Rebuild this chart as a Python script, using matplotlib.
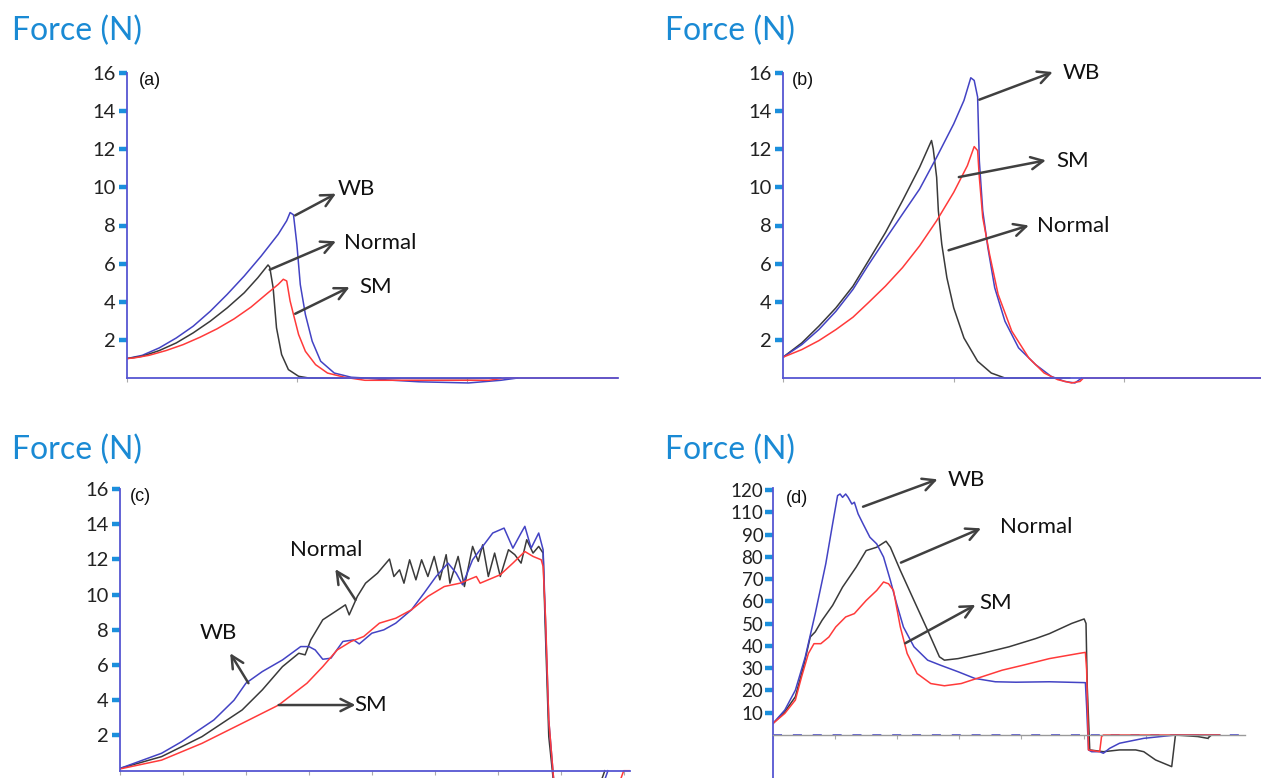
import matplotlib
matplotlib.use("Agg")
import matplotlib.pyplot as plt

W, H = 1261, 778
fig = plt.figure(figsize=(W / 100, H / 100), dpi=100)

BLUE = "#4343c4"
BLACK = "#3a3a3a"
RED = "#ff3a3a"
SPINE = "#5656d2"
TICKC = "#1b8fdc"
TITLEC = "#1a8ad4"
ARROWC = "#404040"
FONT = "Lato"

# ---------------- data (x in x-tick units, y in axis units) ----------------
# Panel (a)
a_wb_x = [0, 0.09, 0.19, 0.29, 0.39, 0.49, 0.59, 0.69, 0.79, 0.89, 0.94, 0.96, 0.98, 1.0, 1.02, 1.05, 1.09,
          1.14, 1.22, 1.32, 1.4, 1.53, 1.72, 2.01, 2.2, 2.3]
a_wb_y = [1.02, 1.19, 1.58, 2.1, 2.72, 3.5, 4.39, 5.35, 6.4, 7.54, 8.25, 8.68, 8.56, 7.0, 4.9, 3.33, 1.93,
          0.88, 0.26, 0.04, 0, -0.1, -0.2, -0.26, -0.12, 0]
a_nm_x = [0, 0.09, 0.19, 0.29, 0.39, 0.49, 0.59, 0.69, 0.77, 0.83, 0.84, 0.86, 0.88, 0.91, 0.95, 1.01, 1.07,
          2.01, 2.2]
a_nm_y = [1.02, 1.14, 1.44, 1.84, 2.37, 2.98, 3.68, 4.47, 5.26, 5.93, 5.82, 4.74, 2.63, 1.23, 0.44, 0.09, 0,
          -0.03, 0]
a_sm_x = [0, 0.04, 0.13, 0.23, 0.33, 0.43, 0.53, 0.63, 0.73, 0.83, 0.89, 0.92, 0.94, 0.96, 0.98, 1.01, 1.05,
          1.11, 1.18, 1.28, 1.4, 2.13, 2.23, 2.89]
a_sm_y = [1.02, 1.05, 1.19, 1.44, 1.75, 2.14, 2.58, 3.1, 3.72, 4.47, 4.91, 5.18, 5.09, 4.04, 3.33, 2.28, 1.4,
          0.7, 0.26, 0.04, -0.12, -0.12, 0, 0]

# Panel (b)
b_wb_x = [0, 0.11, 0.21, 0.31, 0.41, 0.5, 0.6, 0.7, 0.8, 0.9, 1.0, 1.06, 1.1, 1.12, 1.14, 1.15, 1.17, 1.2,
          1.24, 1.3, 1.38, 1.48, 1.57, 1.65, 1.71, 1.75]
b_wb_y = [1.09, 1.75, 2.54, 3.5, 4.65, 5.93, 7.28, 8.6, 9.91, 11.58, 13.33, 14.56, 15.75, 15.61, 14.74, 11.4,
          8.77, 6.84, 4.74, 2.98, 1.58, 0.7, 0.09, -0.18, -0.26, 0]
b_nm_x = [0, 0.11, 0.21, 0.31, 0.41, 0.5, 0.6, 0.7, 0.8, 0.87, 0.88, 0.9, 0.91, 0.93, 0.96, 1.0, 1.06, 1.14,
          1.22, 1.3, 1.68]
b_nm_y = [1.09, 1.84, 2.72, 3.68, 4.82, 6.14, 7.63, 9.3, 11.05, 12.46, 12.02, 10.53, 8.77, 7.02, 5.26, 3.68,
          2.1, 0.88, 0.26, 0, 0]
b_sm_x = [0, 0.11, 0.21, 0.31, 0.41, 0.5, 0.6, 0.7, 0.8, 0.9, 1.0, 1.08, 1.12, 1.14, 1.15, 1.17, 1.21, 1.26,
          1.34, 1.44, 1.53, 1.61, 1.69, 1.74, 1.76, 2.8]
b_sm_y = [1.09, 1.49, 1.96, 2.54, 3.19, 3.95, 4.82, 5.79, 6.93, 8.25, 9.74, 11.14, 12.14, 11.93, 10.53, 8.42,
          6.49, 4.39, 2.46, 1.05, 0.26, -0.09, -0.26, -0.18, 0, 0]

# Panel (c)
c_wb_x = [0.0, 0.66, 0.98, 1.49, 1.81, 2.0, 2.26, 2.58, 2.87, 3.0, 3.1, 3.22, 3.35, 3.54, 3.71, 3.8, 4.0, 4.19,
          4.38, 4.63, 4.83, 5.02, 5.21, 5.34, 5.44, 5.6, 5.72, 5.92, 6.1, 6.24, 6.37, 6.43, 6.53, 6.65, 6.72,
          6.75, 6.81, 6.91, 7.6, 7.75]
c_wb_y = [0.13, 0.99, 1.65, 2.88, 4.0, 4.97, 5.63, 6.29, 7.05, 7.05, 6.86, 6.33, 6.39, 7.34, 7.43, 7.2, 7.81, 8.0,
          8.38, 9.14, 10.09, 11.03, 11.79, 11.22, 10.56, 11.98, 12.55, 13.5, 13.78, 12.64, 13.5, 13.88, 12.64,
          13.5, 12.55, 9.3, 2.88, -1.5, -1.5, 0.0]
c_nm_x = [0.0, 0.66, 1.3, 1.94, 2.26, 2.58, 2.84, 2.94, 3.03, 3.22, 3.42, 3.58, 3.64, 3.77, 3.9, 4.09, 4.28, 4.35,
          4.44, 4.51, 4.6, 4.7, 4.79, 4.89, 4.99, 5.08, 5.18, 5.24, 5.37, 5.47, 5.6, 5.69, 5.76, 5.85, 5.95, 6.04,
          6.17, 6.27, 6.37, 6.46, 6.56, 6.65, 6.72, 6.75, 6.81, 6.91, 7.55, 7.7]
c_nm_y = [0.13, 0.8, 1.93, 3.45, 4.59, 5.91, 6.67, 6.58, 7.43, 8.57, 9.04, 9.42, 8.85, 9.9, 10.65, 11.22, 12.02,
          11.03, 11.41, 10.65, 11.98, 10.84, 11.98, 11.03, 12.17, 10.84, 12.27, 10.65, 12.17, 10.46, 12.74, 11.89,
          12.83, 11.03, 12.36, 11.03, 12.55, 12.27, 11.79, 13.12, 12.36, 12.74, 12.36, 8.57, 1.93, -1.5, -1.5, 0.0]
c_sm_x = [0.0, 0.66, 1.3, 1.94, 2.52, 2.97, 3.22, 3.45, 3.67, 3.87, 4.12, 4.38, 4.63, 4.89, 5.15, 5.4, 5.66, 5.72,
          6.04, 6.24, 6.43, 6.56, 6.69, 6.72, 6.76, 6.81, 6.91, 7.85, 8.0, 8.1]
c_sm_y = [0.1, 0.6, 1.55, 2.69, 3.73, 4.97, 5.91, 6.86, 7.34, 7.62, 8.38, 8.66, 9.14, 9.9, 10.46, 10.65, 11.03,
          10.65, 11.13, 11.79, 12.45, 12.17, 11.98, 11.6, 8.57, 2.88, -1.5, -1.5, 0.0, 0.0]

# Panel (d)  (y in tick-position units; tick labels below skip "100")
d_wb_x = [0, 0.19, 0.36, 0.52, 0.68, 0.85, 0.96, 1.04, 1.08, 1.12, 1.17, 1.21, 1.27, 1.31, 1.37, 1.45, 1.56,
          1.67, 1.78, 1.89, 1.99, 2.1, 2.27, 2.49, 2.7, 2.98, 3.25, 3.58, 3.91, 4.45, 5.03, 5.05, 5.08, 5.13,
          5.26, 5.32, 5.42, 5.58, 5.97, 6.48, 7.19]
d_wb_y = [5.2, 11.2, 20.1, 35.1, 54.5, 76.9, 94.8, 107.5, 108.2, 106.7, 108.2, 106.7, 103.7, 104.5, 99.3, 94.8,
          88.8, 85.8, 79.9, 69.4, 59.0, 48.5, 39.6, 33.6, 31.3, 28.4, 25.4, 23.9, 23.7, 23.9, 23.5, 12.7, -6.7,
          -7.5, -7.5, -8.2, -6.0, -3.7, -1.5, 0, 0]
d_nm_x = [0, 0.19, 0.36, 0.49, 0.6, 0.68, 0.79, 0.96, 1.12, 1.34, 1.5, 1.67, 1.82, 1.89, 2.05, 2.27, 2.49, 2.68,
          2.76, 2.98, 3.36, 3.8, 4.23, 4.45, 4.81, 5.01, 5.04, 5.06, 5.1, 5.32, 5.58, 5.84, 5.97, 6.16, 6.42,
          6.48, 6.84, 7.0, 7.06, 7.19]
d_nm_y = [5.2, 10.4, 17.2, 30.6, 44.0, 46.3, 51.5, 58.2, 66.4, 75.4, 82.8, 84.3, 87.0, 84.3, 73.9, 60.4, 47.0,
          35.1, 33.6, 34.3, 36.6, 39.6, 43.3, 45.5, 50.1, 52.1, 50.1, 21.7, -6.7, -7.5, -6.7, -6.7, -7.5, -11.2,
          -14.2, 0, -0.7, -1.5, 0, 0]
d_sm_x = [0, 0.19, 0.36, 0.46, 0.57, 0.66, 0.77, 0.9, 1.01, 1.17, 1.31, 1.5, 1.67, 1.78, 1.86, 1.94, 2.05, 2.16,
          2.32, 2.54, 2.76, 3.03, 3.36, 3.69, 4.02, 4.45, 4.94, 5.03, 5.05, 5.08, 5.26, 5.29, 5.32, 7.19]
d_sm_y = [5.2, 9.7, 15.7, 26.1, 36.6, 41.0, 41.0, 44.0, 48.5, 53.0, 54.5, 60.4, 64.9, 68.7, 67.9, 64.9, 48.5,
          36.6, 27.6, 23.1, 22.1, 23.1, 26.1, 29.1, 31.3, 34.3, 36.7, 37.1, 29.2, -6.7, -7.5, -0.7, 0, 0]

y_ticks_abc = [2, 4, 6, 8, 10, 12, 14, 16]
y_ticks_d = [10, 20, 30, 40, 50, 60, 70, 80, 90, 100, 110]
y_labels_d = ["10", "20", "30", "40", "50", "60", "70", "80", "90", "110", "120"]

# ---------------- layout helper ----------------
def make_ax(left_px, right_px, zero_px, top_tick_px, top_val, ylo, yhi, xhi):
    ppu = (zero_px - top_tick_px) / top_val
    bottom_px = zero_px - ylo * ppu
    top_px = zero_px - yhi * ppu
    ax = fig.add_axes([left_px / W, 1 - bottom_px / H, (right_px - left_px) / W, (bottom_px - top_px) / H])
    ax.set_xlim(0, xhi)
    ax.set_ylim(ylo, yhi)
    ax.patch.set_alpha(0)
    for s in ("top", "right"):
        ax.spines[s].set_visible(False)
    ax.spines["left"].set_color(SPINE)
    ax.spines["left"].set_linewidth(1.3)
    ax.spines["bottom"].set_position(("data", 0))
    ax.spines["bottom"].set_color(SPINE)
    ax.spines["bottom"].set_linewidth(1.3)
    ax.tick_params(axis="y", direction="out", length=6, width=3.2, color=TICKC, pad=2,
                   labelsize=14.5, labelcolor="#222222")
    ax.tick_params(axis="x", direction="out", length=3, width=0.8, color="#aaaaaa", labelbottom=False)
    return ax


def style_labels(ax, size=14.5):
    for lab in ax.get_yticklabels():
        lab.set_fontfamily(FONT)
        lab.set_fontsize(size)


def arrow(ax, x0, y0, x1, y1):
    ax.annotate("", xy=(x1, y1), xytext=(x0, y0), annotation_clip=False,
                arrowprops=dict(arrowstyle="->", color=ARROWC, lw=1.8, mutation_scale=22,
                                shrinkA=0, shrinkB=0))


def label(ax, x, y, s, ha="left"):
    ax.text(x, y, s, fontsize=16, fontfamily=FONT, ha=ha, va="center", color="#111111", clip_on=False)


def title(x_px, y_px):
    fig.text(x_px / W, 1 - y_px / H, "Force (N)", fontsize=23, fontfamily=FONT, color=TITLEC,
             ha="left", va="center")


LW = 1.1

# ---------------- Panel (a) ----------------
axa = make_ax(127, 618, 378, 73, 16, -0.45, 16.3, 2.89)
axa.set_yticks(y_ticks_abc)
axa.set_xticks([0, 1, 2])
axa.spines["left"].set_bounds(0, 16)
axa.plot(a_wb_x, a_wb_y, color=BLUE, lw=LW)
axa.plot(a_nm_x, a_nm_y, color=BLACK, lw=LW)
axa.plot(a_sm_x, a_sm_y, color=RED, lw=LW)
style_labels(axa)
axa.text(0.07, 15.6, "(a)", fontsize=13, fontfamily="Liberation Sans", va="center", color="#111111")
arrow(axa, 0.99, 8.53, 1.23, 9.67)
label(axa, 1.24, 9.9, "WB")
arrow(axa, 0.84, 5.68, 1.23, 7.17)
label(axa, 1.28, 7.08, "Normal")
arrow(axa, 0.99, 3.37, 1.31, 4.77)
label(axa, 1.37, 4.77, "SM")
title(12, 31)

# ---------------- Panel (b) ----------------
axb = make_ax(783, 1261, 378, 73, 16, -0.45, 16.3, 2.8)
axb.set_yticks(y_ticks_abc)
axb.set_xticks([0, 1, 2])
axb.spines["left"].set_bounds(0, 16)
axb.plot(b_nm_x, b_nm_y, color=BLACK, lw=LW)
axb.plot(b_wb_x, b_wb_y, color=BLUE, lw=LW)
axb.plot(b_sm_x, b_sm_y, color=RED, lw=LW)
style_labels(axb)
axb.text(0.05, 15.6, "(b)", fontsize=13, fontfamily="Liberation Sans", va="center", color="#111111")
arrow(axb, 1.15, 14.6, 1.58, 16.05)
label(axb, 1.64, 16.0, "WB")
arrow(axb, 1.03, 10.54, 1.54, 11.42)
label(axb, 1.6, 11.4, "SM")
arrow(axb, 0.97, 6.7, 1.44, 8.0)
label(axb, 1.49, 8.0, "Normal")
title(665, 31)

# ---------------- Panel (c) ----------------
axc = make_ax(120, 630, 770.7, 489, 16, -0.42, 16.3, 8.1)
axc.set_yticks(y_ticks_abc)
axc.set_xticks(range(0, 9))
axc.spines["left"].set_bounds(0, 16)
axc.plot(c_nm_x, c_nm_y, color=BLACK, lw=LW)
axc.plot(c_wb_x, c_wb_y, color=BLUE, lw=LW)
axc.plot(c_sm_x, c_sm_y, color=RED, lw=LW)
style_labels(axc)
axc.text(0.15, 15.6, "(c)", fontsize=13, fontfamily="Liberation Sans", va="center", color="#111111")
arrow(axc, 3.74, 9.7, 3.42, 11.45)
label(axc, 3.28, 12.55, "Normal", ha="center")
arrow(axc, 2.04, 4.97, 1.75, 6.67)
label(axc, 1.56, 7.81, "WB", ha="center")
arrow(axc, 2.52, 3.73, 3.74, 3.73)
label(axc, 3.72, 3.73, "SM")
title(12, 450)

# ---------------- Panel (d) ----------------
axd = make_ax(773, 1245, 735, 490, 110, -19.3, 112.5, 7.6)
axd.set_yticks(y_ticks_d)
axd.set_yticklabels(y_labels_d)
axd.set_xticks(range(0, 8))
axd.spines["left"].set_bounds(-19.3, 111)
axd.spines["bottom"].set_color("#9a9a9a")
axd.spines["bottom"].set_linewidth(1.0)
axd.axhline(0, color=SPINE, lw=1.3, ls=(0, (5, 6)), zorder=1.5)
axd.plot(d_nm_x, d_nm_y, color=BLACK, lw=LW)
axd.plot(d_wb_x, d_wb_y, color=BLUE, lw=LW)
axd.plot(d_sm_x, d_sm_y, color=RED, lw=LW)
style_labels(axd, 13.5)
axd.tick_params(axis="y", pad=1)
axd.text(0.2, 106, "(d)", fontsize=13, fontfamily="Liberation Sans", va="center", color="#111111")
arrow(axd, 1.45, 102.5, 2.65, 114.8)
label(axd, 2.81, 114.5, "WB")
arrow(axd, 2.06, 77.4, 3.35, 92.8)
label(axd, 3.65, 93.3, "Normal")
arrow(axd, 2.13, 41.2, 3.26, 58.4)
label(axd, 3.32, 59.1, "SM")
title(665, 450)

fig.savefig("out.png", dpi=100)
